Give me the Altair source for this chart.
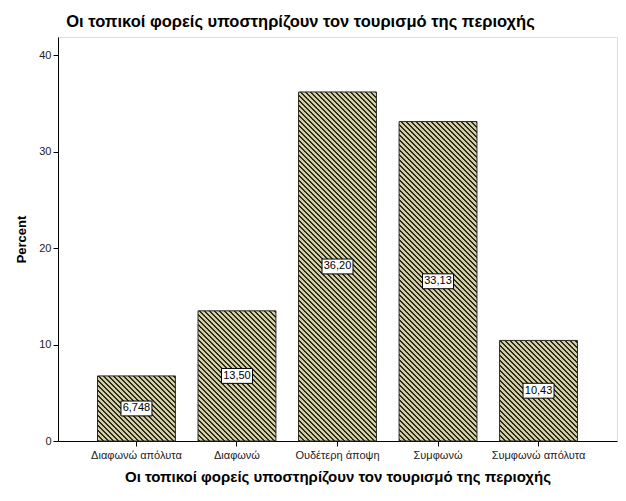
import math
import altair as alt
import pandas as pd

categories = ["Διαφωνώ απόλυτα", "Διαφωνώ", "Ουδέτερη άποψη", "Συμφωνώ", "Συμφωνώ απόλυτα"]
percents = [6.748, 13.50, 36.20, 33.13, 10.43]
labels = ["6,748", "13,50", "36,20", "33,13", "10,43"]
y_ticks = [0, 10, 20, 30, 40]
title_text = "Οι τοπικοί φορείς υποστηρίζουν τον τουρισμό της περιοχής"

FONT = "Liberation Sans"
W, H = 559, 404
YMAX = 41.9
PAD_INNER, PAD_OUTER = 0.225, 0.393
step = W / (len(categories) - PAD_INNER + 2 * PAD_OUTER)
bw = step * (1 - PAD_INNER)

LIGHT = "#d2cea2"
DARK = "#2b2b22"
PERIOD = 5.0
DARK_FRAC = 0.42


def hatch(h):
    w = bw
    n = math.ceil((w + h) / PERIOD) + 1
    k = n * PERIOD / (w * w + h * h)
    stops = []
    for i in range(n):
        a = round(i / n, 6)
        b = round((i + DARK_FRAC) / n, 6)
        c = round((i + 1) / n, 6)
        stops += [
            {"offset": a, "color": DARK},
            {"offset": b, "color": DARK},
            {"offset": b, "color": LIGHT},
            {"offset": c, "color": LIGHT},
        ]
    return {"gradient": "linear", "x1": 0, "y1": 1, "x2": w * k, "y2": 1 - h * k, "stops": stops}


df = pd.DataFrame({"cat": categories, "pct": percents, "label": labels})

xenc = alt.X(
    "cat:N",
    sort=categories,
    scale=alt.Scale(paddingInner=PAD_INNER, paddingOuter=PAD_OUTER),
    axis=alt.Axis(
        title=title_text,
        labelAngle=0,
        labelFont=FONT,
        labelFontSize=11,
        labelColor="#222222",
        labelPadding=3,
        tickColor="black",
        tickSize=5,
        domainColor="black",
        titleFont=FONT,
        titleFontSize=15,
        titleFontWeight="bold",
        titleColor="black",
        titlePadding=9,
    ),
)
yaxis = alt.Axis(
    title="Percent",
    values=y_ticks,
    grid=False,
    labelFont=FONT,
    labelFontSize=11,
    labelColor="#222222",
    labelPadding=2,
    tickColor="black",
    tickSize=5,
    domainColor="black",
    titleFont=FONT,
    titleFontSize=13,
    titleFontWeight="bold",
    titleColor="black",
    titlePadding=10,
)
yscale = alt.Scale(domain=[0, YMAX], nice=False, zero=True)

layers = []
for c, v in zip(categories, percents):
    h = v / YMAX * H
    layers.append(
        alt.Chart(df)
        .transform_filter(alt.datum.cat == c)
        .mark_bar(fill=hatch(h), stroke="#2a2a22", strokeWidth=1)
        .encode(x=xenc, y=alt.Y("pct:Q", scale=yscale, axis=yaxis))
    )

mid = alt.Y("mid:Q", scale=yscale, axis=yaxis)
boxes = (
    alt.Chart(df)
    .transform_calculate(mid="datum.pct / 2")
    .mark_point(
        shape="M-1,-0.48H1V0.48H-1Z",
        size=961,
        filled=True,
        fill="white",
        stroke="black",
        strokeWidth=1,
        opacity=1,
    )
    .encode(x=xenc, y=mid)
)
texts = (
    alt.Chart(df)
    .transform_calculate(mid="datum.pct / 2")
    .mark_text(font=FONT, fontSize=11, color="black")
    .encode(x=xenc, y=mid, text="label:N")
)

chart = (
    alt.layer(*layers, boxes, texts)
    .properties(
        width=W,
        height=H,
        title=alt.Title(
            title_text,
            font=FONT,
            fontSize=16.5,
            fontWeight="bold",
            color="black",
            anchor="middle",
            offset=7,
            dx=-37,
        ),
        autosize=alt.AutoSizeParams(type="none"),
        padding={"left": 50, "top": 29, "right": 1, "bottom": 50},
    )
    .configure_view(stroke="black", strokeWidth=1)
    .configure(background="white")
)

chart.save("out.html", embed_options={"renderer": "svg", "actions": False})
